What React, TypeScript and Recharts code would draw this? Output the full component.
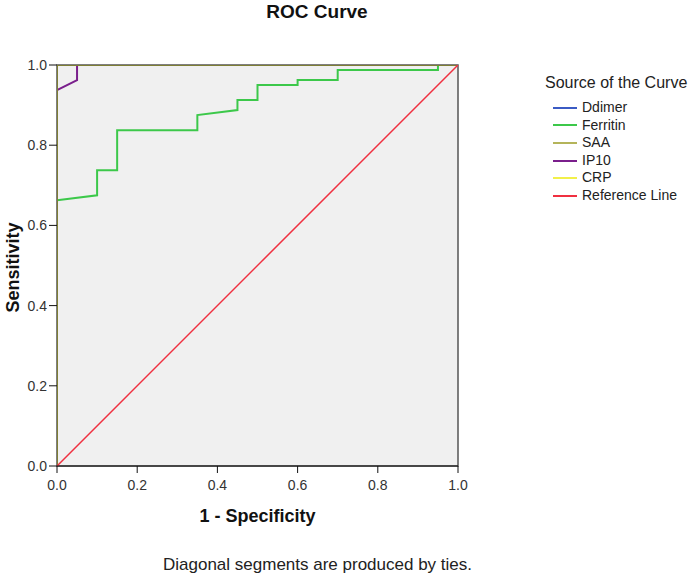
import React from 'react';
import { LineChart, Line, XAxis, YAxis, ReferenceArea, Label } from 'recharts';

const FONT = '"Liberation Sans", Arial, sans-serif';

const ticks = [0, 0.2, 0.4, 0.6, 0.8, 1.0];

const ddimerData = [
  { x: 0, y: 0 },
  { x: 0, y: 1 },
  { x: 1, y: 1 },
];

const ferritinData = [
  { x: 0, y: 0.6625 },
  { x: 0.1, y: 0.675 },
  { x: 0.1, y: 0.7375 },
  { x: 0.15, y: 0.7375 },
  { x: 0.15, y: 0.8375 },
  { x: 0.35, y: 0.8375 },
  { x: 0.35, y: 0.875 },
  { x: 0.45, y: 0.8875 },
  { x: 0.45, y: 0.9125 },
  { x: 0.5, y: 0.9125 },
  { x: 0.5, y: 0.95 },
  { x: 0.6, y: 0.95 },
  { x: 0.6, y: 0.9625 },
  { x: 0.7, y: 0.9625 },
  { x: 0.7, y: 0.9875 },
  { x: 0.95, y: 0.9875 },
  { x: 0.95, y: 1 },
  { x: 1, y: 1 },
];

const saaData = [
  { x: 0, y: 0 },
  { x: 0, y: 1 },
  { x: 1, y: 1 },
];

const ip10Data = [
  { x: 0, y: 0.9375 },
  { x: 0.05, y: 0.9625 },
  { x: 0.05, y: 1 },
  { x: 1, y: 1 },
];

const crpData = [
  { x: 0, y: 0 },
  { x: 0, y: 1 },
  { x: 1, y: 1 },
];

const referenceData = [
  { x: 0, y: 0 },
  { x: 1, y: 1 },
];

const legendItems = [
  { name: 'Ddimer', color: '#3b5bc4' },
  { name: 'Ferritin', color: '#3cc84a' },
  { name: 'SAA', color: '#b4b45a' },
  { name: 'IP10', color: '#7a1f8c' },
  { name: 'CRP', color: '#f2f04a' },
  { name: 'Reference Line', color: '#f03040' },
];

const colorOf = (n: string) => legendItems.find((l) => l.name === n)!.color;

const fmt = (v: number) => v.toFixed(1);

export default function App() {
  return (
    <div
      style={{
        position: 'absolute',
        left: 0,
        top: 0,
        width: 692,
        height: 579,
        background: '#fff',
        fontFamily: FONT,
      }}
    >
      <div
        style={{
          position: 'absolute',
          left: 0,
          top: 2,
          width: 634,
          textAlign: 'center',
          fontSize: 19,
          lineHeight: '19px',
          fontWeight: 'bold',
          color: '#111',
        }}
      >
        ROC Curve
      </div>

      <LineChart
        width={692}
        height={579}
        margin={{ top: 65, right: 234, bottom: 83, left: 0 }}
        style={{ position: 'absolute', left: 0, top: 0 }}
      >
        <XAxis
          type="number"
          dataKey="x"
          domain={[0, 1]}
          ticks={ticks}
          tickFormatter={fmt}
          allowDataOverflow
          height={30}
          tickSize={7}
          tickMargin={7}
          stroke="#111"
          tick={{ fill: '#333', fontSize: 14, fontFamily: FONT }}
        >
          <Label
            content={(props: any) => {
              const vb = props.viewBox || {};
              return (
                <text
                  x={vb.x + vb.width / 2}
                  y={vb.y + 56}
                  textAnchor="middle"
                  fontSize={18}
                  fontWeight="bold"
                  fontFamily={FONT}
                  fill="#111"
                >
                  1 - Specificity
                </text>
              );
            }}
          />
        </XAxis>
        <YAxis
          type="number"
          dataKey="y"
          domain={[0, 1]}
          ticks={ticks}
          tickFormatter={fmt}
          allowDataOverflow
          width={57}
          tickSize={8}
          tickMargin={2}
          axisLine={false}
          stroke="#111"
          tickLine={{ stroke: '#111' }}
          tick={{ fill: '#333', fontSize: 14, fontFamily: FONT }}
        >
          <Label
            content={(props: any) => {
              const vb = props.viewBox || {};
              const cx = 13;
              const cy = vb.y + vb.height / 2 + 2;
              return (
                <text
                  x={cx}
                  y={cy}
                  transform={`rotate(-90 ${cx} ${cy})`}
                  textAnchor="middle"
                  dominantBaseline="central"
                  fontSize={18}
                  fontWeight="bold"
                  fontFamily={FONT}
                  fill="#111"
                >
                  Sensitivity
                </text>
              );
            }}
          />
        </YAxis>
        <ReferenceArea
          x1={0}
          x2={1}
          y1={0}
          y2={1}
          fill="#f0f0f0"
          fillOpacity={1}
          stroke="#555"
          strokeWidth={1.5}
          ifOverflow="visible"
        />
        <Line data={ddimerData} dataKey="y" type="linear" stroke={colorOf('Ddimer')} strokeWidth={2} dot={false} isAnimationActive={false} />
        <Line data={crpData} dataKey="y" type="linear" stroke={colorOf('CRP')} strokeWidth={2} dot={false} isAnimationActive={false} />
        <Line data={ferritinData} dataKey="y" type="linear" stroke={colorOf('Ferritin')} strokeWidth={2} dot={false} isAnimationActive={false} />
        <Line data={ip10Data} dataKey="y" type="linear" stroke={colorOf('IP10')} strokeWidth={2} dot={false} isAnimationActive={false} />
        <Line data={saaData} dataKey="y" type="linear" stroke="#7e7e34" strokeWidth={2} dot={false} isAnimationActive={false} />
        <Line data={referenceData} dataKey="y" type="linear" stroke={colorOf('Reference Line')} strokeWidth={1.5} dot={false} isAnimationActive={false} />
      </LineChart>

      <div style={{ position: 'absolute', left: 545, top: 74, color: '#222' }}>
        <div style={{ fontSize: 16, lineHeight: '18px', whiteSpace: 'nowrap' }}>Source of the Curve</div>
        <div style={{ position: 'absolute', left: 8, top: 25 }}>
          {legendItems.map((it) => (
            <div
              key={it.name}
              style={{ display: 'flex', alignItems: 'center', height: 17.6, whiteSpace: 'nowrap' }}
            >
              <span style={{ display: 'inline-block', width: 24, height: 2, background: it.color, marginRight: 5 }} />
              <span style={{ fontSize: 14, lineHeight: '17.6px' }}>{it.name}</span>
            </div>
          ))}
        </div>
      </div>

      <div
        style={{
          position: 'absolute',
          left: 163,
          top: 556,
          fontSize: 17,
          lineHeight: '17px',
          whiteSpace: 'nowrap',
          color: '#222',
        }}
      >
        Diagonal segments are produced by ties.
      </div>
    </div>
  );
}
